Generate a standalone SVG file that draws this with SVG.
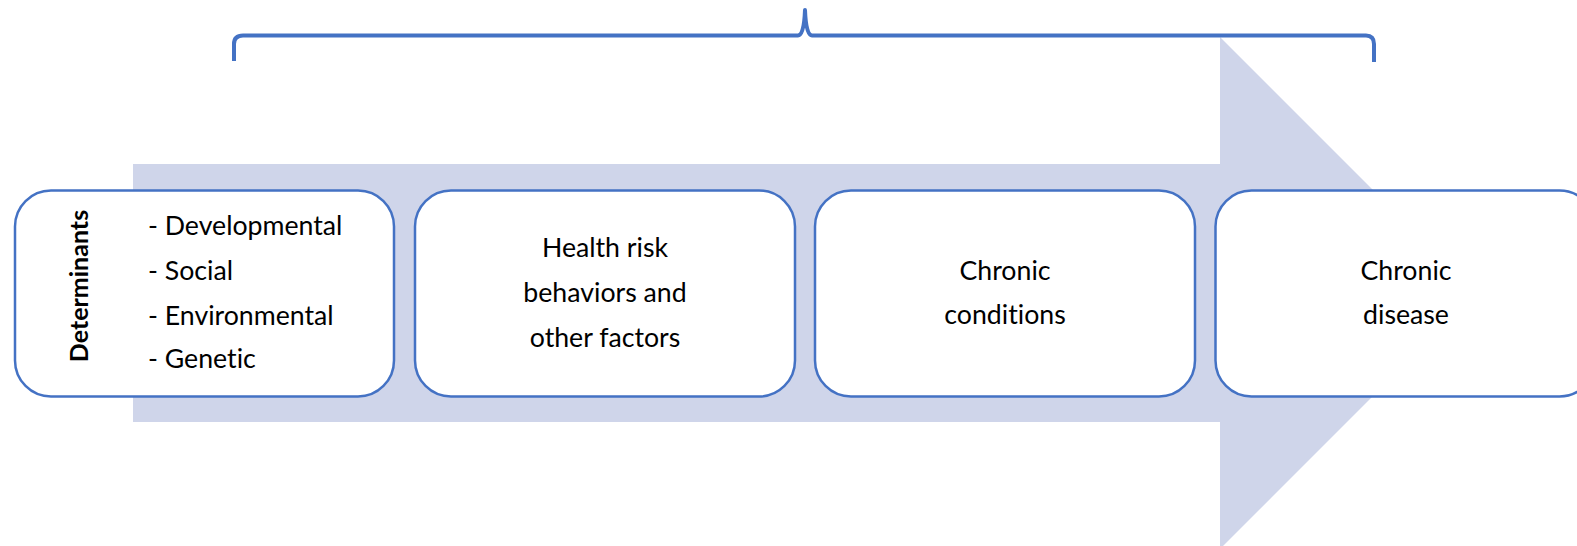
<svg xmlns="http://www.w3.org/2000/svg" width="1577" height="546" viewBox="0 0 1577 546">
  <style>
    .box { fill: #ffffff; stroke: #4472C4; stroke-width: 2.5; }
    .lbl { font-family: Lato, "Liberation Sans", sans-serif; font-size: 26.7px; fill: #000000; font-variant-ligatures: none; }
    .mid { text-anchor: middle; }
    .bold { font-weight: bold; font-size: 25px; }
    .brace { fill: none; stroke: #4472C4; stroke-width: 4; stroke-linejoin: round; }
  </style>
  <rect width="1577" height="546" fill="#ffffff"/>

  <!-- Broad background arrow -->
  <g id="arrow">
    <polygon points="133,164 1220,164 1220,37 1476,293 1220,549 1220,422 133,422" fill="#CFD5EA"/>
  </g>

  <!-- Brace over the process -->
  <g id="brace">
    <path class="brace" d="M234,61 L234,44 Q234,35.5 243,35.5 L798,35.5 Q804,35.5 805,10 Q806,35.5 812,35.5 L1366,35.5 Q1374,35.5 1374,44 L1374,62"/>
  </g>

  <g id="connectors"></g>

  <g id="node-determinants">
    <rect class="box" x="15" y="190.5" width="379" height="206" rx="36" ry="36"/>
    <text class="lbl bold mid" transform="translate(88,286) rotate(-90)">Determinants</text>
    <text class="lbl" x="148" y="235">- Developmental</text>
    <text class="lbl" x="148" y="280">- Social</text>
    <text class="lbl" x="148" y="325">- Environmental</text>
    <text class="lbl" x="148" y="368">- Genetic</text>
  </g>

  <g id="node-behaviors">
    <rect class="box" x="415" y="190.5" width="380" height="206" rx="36" ry="36"/>
    <text class="lbl mid" x="605" y="257">Health risk</text>
    <text class="lbl mid" x="605" y="302">behaviors and</text>
    <text class="lbl mid" x="605" y="347">other factors</text>
  </g>

  <g id="node-conditions">
    <rect class="box" x="815" y="190.5" width="380" height="206" rx="36" ry="36"/>
    <text class="lbl mid" x="1005" y="280">Chronic</text>
    <text class="lbl mid" x="1005" y="324">conditions</text>
  </g>

  <g id="node-disease">
    <rect class="box" x="1215.5" y="190.5" width="380" height="206" rx="36" ry="36"/>
    <text class="lbl mid" x="1406" y="280">Chronic</text>
    <text class="lbl mid" x="1406" y="324">disease</text>
  </g>
</svg>
